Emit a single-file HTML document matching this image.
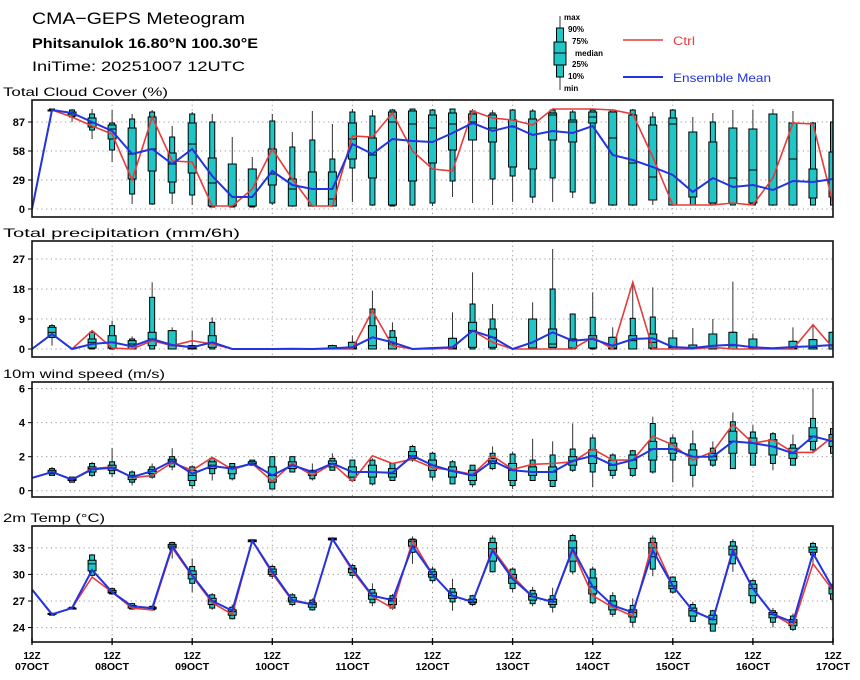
<!DOCTYPE html>
<html><head><meta charset="utf-8"><style>
html,body{margin:0;padding:0;background:#fff;}
svg{display:block;font-family:"Liberation Sans",sans-serif;}
</style></head><body>
<svg id="chart" width="860" height="680" viewBox="0 0 860 680" xmlns="http://www.w3.org/2000/svg">
<text x="32" y="24" font-size="17" fill="#000" textLength="213" lengthAdjust="spacingAndGlyphs">CMA−GEPS Meteogram</text>
<text x="32" y="48" font-size="14" font-weight="bold" fill="#000" textLength="226" lengthAdjust="spacingAndGlyphs">Phitsanulok 16.80°N 100.30°E</text>
<text x="32" y="71" font-size="14" fill="#000" textLength="213" lengthAdjust="spacingAndGlyphs">IniTime: 20251007 12UTC</text>
<g>
<line x1="560" y1="16" x2="560" y2="90" stroke="#333" stroke-width="1"/>
<rect x="556.5" y="28" width="7" height="49" fill="#20c6c6" stroke="#000"/>
<rect x="554" y="42" width="12" height="23" fill="#20c6c6" stroke="#000"/>
<line x1="554" y1="53" x2="566" y2="53" stroke="#000"/>
<g font-size="8" font-weight="bold" fill="#000">
<text x="564" y="20">max</text><text x="568" y="32">90%</text><text x="572" y="44">75%</text>
<text x="575" y="56">median</text><text x="572" y="67">25%</text><text x="568" y="79">10%</text><text x="564" y="91">min</text>
</g></g>
<g>
<line x1="623" y1="40" x2="663" y2="40" stroke="#e83a3a" stroke-width="1.5"/>
<text x="673" y="45" font-size="12" fill="#e83a3a" textLength="22" lengthAdjust="spacingAndGlyphs">Ctrl</text></g>
<g>
<line x1="623" y1="77" x2="663" y2="77" stroke="#2233e0" stroke-width="2"/>
<text x="673" y="82" font-size="12" fill="#2233e0" textLength="98" lengthAdjust="spacingAndGlyphs">Ensemble Mean</text></g>
</svg>
<script>
const cloudTicks=[0,29,58,87];
const cloudCtrl=[0,99,92,83,75,29,92,48,47,3,3,20,60,30,3,3,73,72,96,58,40,38,98,91,89,84,100,100,100,99,95,52,4,4,4,6,4,31,86,85,6];
const cloudMean=[0,99,96,87,78,55,60,45,60,33,12,12,38,24,20,20,65,55,70,68,67,76,86,78,83,74,78,76,83,54,49,42,34,17,31,22,24,19,28,27,30];
const cloudBoxes=[null,[97,98,98,99,99,100,100],[87,92,93,95,97,99,100],[70,79,82,86,91,95,100],[47,59,70,80,84,86,99],[5,15,30,55,81,90,95],[4,5,38,60,92,97,99],[5,16,27,45,56,72,83],[4,14,36,65,86,95,97],[2,2,3,26,51,87,95],[2,2,3,3,45,45,72],[2,2,3,3,40,40,52],[4,6,24,35,60,88,95],[2,3,3,20,30,62,77],[2,3,3,3,37,69,98],[2,3,3,10,37,50,85],[7,41,50,70,86,97,100],[3,4,31,54,71,93,99],[3,3,4,87,97,99,100],[3,4,28,85,98,100,100],[3,6,46,81,94,99,100],[12,28,59,85,96,100,100],[6,69,69,87,95,98,100],[4,30,67,81,94,96,99],[7,33,42,82,89,99,100],[6,12,40,90,90,98,100],[7,31,69,94,96,99,100],[11,17,67,87,89,97,99],[6,6,86,92,97,99,100],[3,4,4,71,97,99,100],[3,4,4,46,94,99,100],[4,9,9,32,84,92,97],[3,4,4,85,91,99,100],[4,4,12,12,77,77,92],[4,4,6,6,67,87,96],[4,4,6,31,81,81,99],[4,4,6,39,80,80,99],[3,4,4,4,95,95,100],[3,4,4,50,86,86,98],[4,4,11,11,40,86,87],[4,4,12,12,57,87,90]];

const precipTicks=[0,9,18,27];
const precipCtrl=[0,4.5,0,5.5,0.3,0,2.5,1,2.5,1.5,0,0,0,0,0,0,0,11.5,1,0,0,0.3,5.5,2,0,0,0,0,3.5,0,20,0,0,0,0.5,0,0,0,0,7.3,0.3];
const precipMean=[0,4.5,0,1.5,2,0.8,3,1.2,0.5,2,0,0,0,0.1,0,0.2,0.5,3.5,2,0,0.3,0.5,5.5,3.5,0,2,5,2.5,3,1,3,3.2,0.6,0.3,1,1.3,0.5,0.2,0.6,0.8,1.2];
const precipBoxes=[null,[1,3.5,3.5,5,6.5,7,7.5],null,[0,0,0.3,2,3,5,5.5],[0,0,0.3,2,4,7,8.5],[0,0,0,1.5,2.5,3,3.8],[0,0,1,3,5,15.5,20],[0,0,0,1,5.5,5.5,6.5],[0,0,0,0.3,1,1,5.5],[0,0,0.5,1.5,4,8,9.5],null,null,null,null,null,[0,0,0,0.3,1,1,1.3],[0,0,0,0.3,2,2,4],[0,0,0,1,7,12,17.5],[0,0,0,1.5,3.5,5.5,8],null,null,[0,0,0,0.3,3.2,3.2,11],[0,0,0.5,5.5,8,13.5,23],[0,0,0.5,3.5,6,9,13.5],null,[0,0,0,0.3,9,9,14],[0,0,0.5,1.5,6,18,30],[0,0,0.3,2.5,3,10.5,10.5],[0,0,0.3,3,4,9.5,17],[0,0,0,0.3,3.5,3.5,6.5],[0,0,0,2.5,4,9.2,20],[0,0,0.3,2,4.5,9.6,18.5],[0,0,0,0.5,3.3,3.3,5.8],[0,0,0,0.3,1.2,1.2,6.3],[0,0,0,0.5,4.5,4.5,9],[0,0,0,1,5,5,20.2],[0,0,0,0.3,3,3,4.7],null,[0,0,0,0.3,2.3,2.3,6.5],[0,0,0,0.5,2.8,2.8,7],[0,0,0,1,5,5,5]];

const windTicks=[0,2,4,6];
const windCtrl=[0.75,1.1,0.65,1.3,1.4,0.75,0.9,1.65,1.2,1.95,1.25,1.6,0.55,1.6,0.9,1.6,0.55,2.05,1.6,1.85,1.35,1.2,0.95,2.05,1.25,1.55,1.6,1.7,2.45,1.8,1.8,3.2,2.7,1.8,2.3,3.9,2.8,3.0,2.25,2.25,3.2];
const windMean=[0.75,1.1,0.65,1.25,1.35,0.8,1.15,1.75,1.0,1.45,1.3,1.6,0.9,1.5,1.1,1.6,1.1,1.1,1.05,2.05,1.5,1.15,0.9,1.75,1.2,1.1,1.1,1.75,2.05,1.5,1.8,2.45,2.45,2.0,2.0,2.9,2.8,2.6,2.2,3.2,2.9];
const windBoxes=[null,[0.9,0.9,1.0,1.1,1.2,1.3,1.4],[0.5,0.5,0.6,0.65,0.7,0.8,0.8],[0.8,0.9,1.1,1.3,1.4,1.6,1.7],[0.8,1.0,1.2,1.35,1.5,1.7,2.5],[0.3,0.5,0.65,0.8,0.9,1.1,1.2],[0.7,0.8,1.0,1.15,1.25,1.4,1.6],[1.2,1.4,1.6,1.75,1.85,2.0,2.5],[0.1,0.3,0.6,0.9,1.2,1.4,1.5],[0.6,1.0,1.3,1.5,1.7,1.9,2.0],[0.6,0.7,1.0,1.3,1.4,1.6,1.6],[1.5,1.5,1.55,1.6,1.7,1.8,1.8],[0.1,0.1,0.5,0.9,1.4,2.0,2.0],[1.1,1.1,1.3,1.5,1.7,2.0,2.0],[0.6,0.7,0.9,1.1,1.15,1.2,1.6],[1.2,1.2,1.4,1.6,1.75,1.9,2.2],[0.6,0.6,0.8,1.1,1.4,1.8,1.8],[0.3,0.4,0.8,1.1,1.5,1.8,1.9],[0.6,0.6,0.8,1.0,1.3,1.6,1.6],[1.7,1.8,1.9,2.05,2.3,2.6,2.7],[0.6,0.8,1.2,1.5,1.8,2.2,2.3],[0.4,0.4,0.8,1.15,1.4,1.7,1.8],[0.2,0.35,0.6,0.9,1.2,1.5,1.5],[1.2,1.3,1.6,1.75,1.9,2.2,2.6],[0.1,0.3,0.6,1.2,1.6,2.15,2.3],[0.6,0.6,0.9,1.1,1.4,1.8,3.05],[0.2,0.25,0.6,1.1,1.4,2.1,2.9],[1.1,1.2,1.5,1.75,2.0,2.45,3.95],[0.2,1.1,1.6,2.05,2.4,3.1,3.3],[0.7,0.9,1.2,1.5,1.8,2.1,2.2],[0.8,0.9,1.3,1.8,2.1,2.35,2.4],[1.0,1.1,1.8,2.45,2.9,3.95,4.35],[0.5,1.8,2.2,2.45,2.8,3.1,3.3],[0.2,0.9,1.5,2.0,2.4,2.75,3.55],[1.4,1.5,1.8,2.0,2.2,2.5,2.9],[1.3,1.3,2.2,2.9,3.5,4.05,4.6],[1.5,1.5,2.2,2.8,3.1,3.45,3.85],[1.2,1.6,2.1,2.6,3.0,3.35,3.45],[1.5,1.5,1.9,2.2,2.5,2.7,3.3],[2.2,2.4,2.9,3.2,3.7,4.25,6.0],[2.2,2.2,2.6,2.9,3.3,3.65,3.7]];

const tempTicks=[24,27,30,33];
const tempCtrl=[28.3,25.5,26.2,29.7,28.0,26.2,26.0,33.0,29.8,26.8,25.5,33.8,30.1,27.0,26.6,34.0,30.4,27.5,26.2,33.8,30.0,27.6,26.9,32.9,29.8,27.5,26.9,32.7,27.6,26.3,25.3,33.7,28.7,25.9,24.9,32.9,28.4,25.5,24.2,31.2,28.2];
const tempMean=[28.3,25.5,26.2,30.5,28.0,26.4,26.2,33.2,29.9,27.0,25.9,33.8,30.3,27.1,26.6,34.0,30.6,27.6,27.1,33.2,30.0,27.6,26.9,32.7,29.5,27.5,26.9,32.9,28.6,26.5,25.7,32.7,28.7,25.9,24.9,32.7,28.4,25.5,24.6,32.4,28.4];
const tempBoxes=[null,[25.4,25.4,25.5,25.5,25.6,25.6,25.7],[26.1,26.1,26.2,26.2,26.2,26.3,26.3],[29.6,29.9,30.4,31.2,31.6,32.2,32.3],[27.7,27.8,27.9,28.0,28.2,28.4,28.5],[26.0,26.1,26.2,26.4,26.5,26.7,26.8],[25.9,26.0,26.1,26.2,26.3,26.4,26.5],[31.8,32.8,33.0,33.2,33.4,33.6,33.7],[28.0,29.0,29.5,30.0,30.4,30.9,31.8],[26.0,26.2,26.6,27.0,27.3,27.7,27.9],[24.9,25.0,25.4,25.8,26.0,26.3,26.6],[33.6,33.7,33.7,33.8,33.9,33.9,34.0],[29.5,29.8,30.0,30.3,30.6,30.9,31.1],[26.4,26.6,26.9,27.1,27.4,27.7,27.9],[25.9,26.0,26.3,26.6,26.8,27.1,27.3],[33.8,33.9,33.9,34.0,34.1,34.1,34.2],[29.6,29.9,30.2,30.6,30.7,31.0,31.2],[26.4,26.8,27.2,27.6,27.9,28.3,29.0],[26.0,26.2,26.6,27.0,27.3,27.6,27.8],[31.2,32.5,33.2,33.7,33.9,34.0,34.3],[29.0,29.3,29.7,30.0,30.3,30.6,30.9],[25.9,26.9,27.3,27.6,28.0,28.4,29.5],[26.4,26.6,26.8,26.9,27.2,27.6,27.7],[30.2,30.3,31.5,32.9,33.6,34.1,34.4],[28.0,28.4,29.0,29.6,30.0,30.6,30.8],[26.4,26.7,27.1,27.5,27.8,28.2,28.6],[25.7,26.3,26.6,26.9,27.2,27.6,28.5],[30.0,30.3,31.5,33.0,33.8,34.4,34.6],[26.6,26.8,27.8,28.6,29.6,30.6,30.9],[25.2,25.5,26.0,26.5,27.0,27.6,28.0],[24.0,24.6,25.2,25.7,26.0,26.5,27.3],[29.8,30.6,32.0,33.0,33.6,34.1,34.4],[27.8,28.0,28.4,28.7,29.2,29.7,29.8],[24.6,24.7,25.3,25.9,26.2,26.6,26.9],[23.6,23.6,24.4,24.9,25.4,25.9,26.0],[30.3,31.2,32.2,32.8,33.2,33.7,34.0],[26.6,26.8,27.6,28.4,28.9,29.3,29.5],[24.0,24.6,25.1,25.5,25.7,25.9,26.2],[23.6,23.8,24.2,24.6,24.9,25.3,25.6],[31.2,32.2,32.5,32.8,33.1,33.5,33.7],[27.1,27.2,27.8,28.4,28.6,28.9,29.1]];

const dayLabels=["07OCT","08OCT","09OCT","10OCT","11OCT","12OCT","13OCT","14OCT","15OCT","16OCT","17OCT"];

const NS="http://www.w3.org/2000/svg";
const svg=document.getElementById('chart');
const X0=32,X1=833,NSTEP=40;
function xs(i){return X0+(X1-X0)*i/NSTEP;}
function mk(tag,attrs,parent){const e=document.createElementNS(NS,tag);for(const k in attrs)e.setAttribute(k,attrs[k]);(parent||svg).appendChild(e);return e;}

const panels=[
 {key:'cloud',title:'Total Cloud Cover (%)',tw:165,top:100,bot:217,vt:109,vb:-8,ticks:cloudTicks,ctrl:cloudCtrl,mean:cloudMean,boxes:cloudBoxes},
 {key:'precip',title:'Total precipitation (mm/6h)',tw:237,top:241,bot:357,vt:32.4,vb:-2.4,ticks:precipTicks,ctrl:precipCtrl,mean:precipMean,boxes:precipBoxes},
 {key:'wind',title:'10m wind speed (m/s)',tw:162,top:382,bot:497,vt:6.39,vb:-0.37,ticks:windTicks,ctrl:windCtrl,mean:windMean,boxes:windBoxes},
 {key:'temp',title:'2m Temp (°C)',tw:102,top:526,bot:642,vt:35.47,vb:22.37,ticks:tempTicks,ctrl:tempCtrl,mean:tempMean,boxes:tempBoxes}
];

panels.forEach(p=>{
  const ys=v=>p.bot+(v-p.vb)*(p.top-p.bot)/(p.vt-p.vb);
  const g=mk('g',{});
  
  
  const cid='clip-'+p.key;
  const cp=mk('clipPath',{id:cid},g);
  mk('rect',{x:X0,y:p.top,width:X1-X0,height:p.bot-p.top},cp);
  const t=mk('text',{x:3,y:p.top-4,'font-size':12,fill:'#000',textLength:p.tw,lengthAdjust:'spacingAndGlyphs'},g);
  t.textContent=p.title;
  
  
  for(let d=1;d<dayLabels.length-1;d++){
    const gl=mk('line',{x1:xs(d*4),x2:xs(d*4),y1:p.top,y2:p.bot,stroke:'#999','stroke-dasharray':'1.2,3.5','stroke-width':1},g);
    
    
  }
  p.ticks.forEach(tv=>{
    const y=ys(tv);
    const hl=mk('line',{x1:X0,x2:X1,y1:y,y2:y,stroke:'#999','stroke-dasharray':'1.2,3.5','stroke-width':1},g);
    
    
    mk('line',{x1:X0-4,x2:X0,y1:y,y2:y,stroke:'#000'},g);
    const tl=mk('text',{x:X0-7,y:y+4,'font-size':11,'font-weight':'bold','text-anchor':'end',fill:'#000'},g);
    tl.textContent=tv;
    
    
  });
  const inner=mk('g',{'clip-path':'url(#'+cid+')'},g);
  p.boxes.forEach((b,i)=>{
    if(!b)return;
    const x=xs(i);
    const bg=mk('g',{},inner);
    
    
    mk('line',{x1:x,x2:x,y1:ys(b[0]),y2:ys(b[6]),stroke:'#333','stroke-width':1},bg);
    const y90=ys(b[5]),y10=ys(b[1]);
    mk('rect',{x:x-2.5,y:y90,width:5,height:Math.max(1,y10-y90),fill:'#20c6c6',stroke:'#000','stroke-width':1},bg);
    const y75=ys(b[4]),y25=ys(b[2]);
    mk('rect',{x:x-4,y:y75,width:8,height:Math.max(1,y25-y75),fill:'#20c6c6',stroke:'#000','stroke-width':1},bg);
    mk('line',{x1:x-4,x2:x+4,y1:ys(b[3]),y2:ys(b[3]),stroke:'#000','stroke-width':1},bg);
  });
  const ctrlPts=p.ctrl.map((v,i)=>xs(i).toFixed(1)+','+ys(v).toFixed(1)).join(' ');
  const cl=mk('polyline',{points:ctrlPts,fill:'none',stroke:'#e83a3a','stroke-width':1.6},inner);
  
  
  const meanPts=p.mean.map((v,i)=>xs(i).toFixed(1)+','+ys(v).toFixed(1)).join(' ');
  const ml=mk('polyline',{points:meanPts,fill:'none',stroke:'#2233e0','stroke-width':2},inner);
  
  
  const fr=mk('rect',{x:X0,y:p.top,width:X1-X0,height:p.bot-p.top,fill:'none',stroke:'#111','stroke-width':1.6},g);
  
  
});
const bottom=panels[3].bot;
dayLabels.forEach((d,k)=>{
  const x=xs(k*4);
  mk('line',{x1:x,x2:x,y1:bottom-4,y2:bottom+3,stroke:'#000','stroke-width':1.3});
  const a=mk('text',{x:x,y:659,'font-size':10,'font-weight':'bold','text-anchor':'middle',fill:'#000'});
  a.textContent='12Z';
  
  
  const b=mk('text',{x:x,y:670,'font-size':10,'font-weight':'bold','text-anchor':'middle',fill:'#000',textLength:34,lengthAdjust:'spacingAndGlyphs'});
  b.textContent=d;
  
  
});
</script>
</body></html>
